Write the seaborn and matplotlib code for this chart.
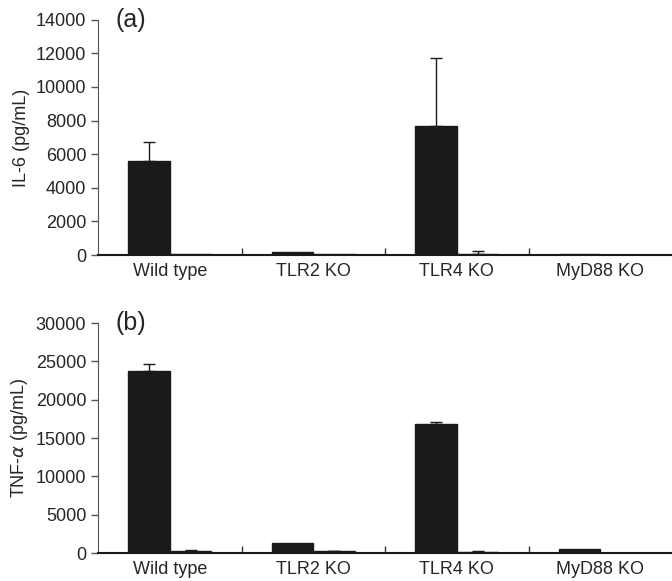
import numpy as np
import pandas as pd
import matplotlib
matplotlib.use("Agg")
import matplotlib.pyplot as plt
import seaborn as sns

sns.set_style("ticks")
plt.rcParams['font.family'] = ['Liberation Sans', 'DejaVu Sans']

groups = ["Wild type", "TLR2 KO", "TLR4 KO", "MyD88 KO"]
treat = ["stim", "ctrl"]

# IL-6 (pg/mL)
il6_stim = [5580, 200, 7700, 60]
il6_ctrl = [90, 60, 80, 20]
il6_stim_err = [1170, 0, 4000, 0]
il6_ctrl_err = [0, 0, 150, 0]

# TNF-alpha (pg/mL)
tnf_stim = [23800, 1300, 16800, 500]
tnf_ctrl = [300, 250, 150, 40]
tnf_stim_err = [900, 0, 250, 0]
tnf_ctrl_err = [150, 50, 100, 0]


def make_df(stim, ctrl):
    rows = []
    for g, s, c in zip(groups, stim, ctrl):
        rows.append((g, "stim", s))
        rows.append((g, "ctrl", c))
    return pd.DataFrame(rows, columns=["group", "treatment", "value"])


def panel(ax, stim, ctrl, s_err, c_err, ymax, step, ylabel, tag):
    df = make_df(stim, ctrl)
    sns.barplot(data=df, x="group", y="value", hue="treatment",
                hue_order=treat, order=groups,
                palette={"stim": "#1a1a1a", "ctrl": "white"},
                edgecolor="#1a1a1a", linewidth=1, width=0.58,
                errorbar=None, legend=False, ax=ax)
    # upper-only error bars on bar centres
    bars = ax.patches
    n = len(groups)
    errs = list(s_err) + list(c_err)
    for p, e in zip(bars[:2 * n], errs):
        if e > 0:
            x = p.get_x() + p.get_width() / 2
            ax.errorbar(x, p.get_height(), yerr=[[0], [e]], fmt="none",
                        ecolor="#1a1a1a", elinewidth=1, capsize=4,
                        capthick=1)
    ax.set_xlim(-0.5, len(groups) - 0.5)
    ax.set_ylim(0, ymax)
    ax.set_yticks(np.arange(0, ymax + 1, step))
    ax.set_xticks(np.arange(len(groups) - 1) + 0.5, minor=True)
    ax.tick_params(axis="x", which="major", length=0, labelsize=13, pad=6)
    ax.tick_params(axis="x", which="minor", direction="in", length=5,
                   width=1, color="#333333")
    ax.tick_params(axis="y", length=5, width=1, labelsize=13,
                   color="#555555")
    ax.set_xlabel("")
    ax.set_ylabel(ylabel, fontsize=13)
    sns.despine(ax=ax)
    ax.spines["left"].set_color("#555555")
    ax.spines["bottom"].set_color("#1a1a1a")
    ax.spines["bottom"].set_linewidth(1.5)
    ax.text(0.03, 1.0, tag, transform=ax.transAxes, fontsize=18,
            va="center", ha="left")


fig = plt.figure(figsize=(6.72, 5.81), dpi=100)
ax1 = fig.add_axes([0.146, 0.561, 0.854, 0.405])
ax2 = fig.add_axes([0.146, 0.048, 0.854, 0.396])

panel(ax1, il6_stim, il6_ctrl, il6_stim_err, il6_ctrl_err,
      14000, 2000, "IL-6 (pg/mL)", "(a)")
panel(ax2, tnf_stim, tnf_ctrl, tnf_stim_err, tnf_ctrl_err,
      30000, 5000, r"TNF-$\alpha$ (pg/mL)", "(b)")

fig.savefig("out.png", dpi=100)
